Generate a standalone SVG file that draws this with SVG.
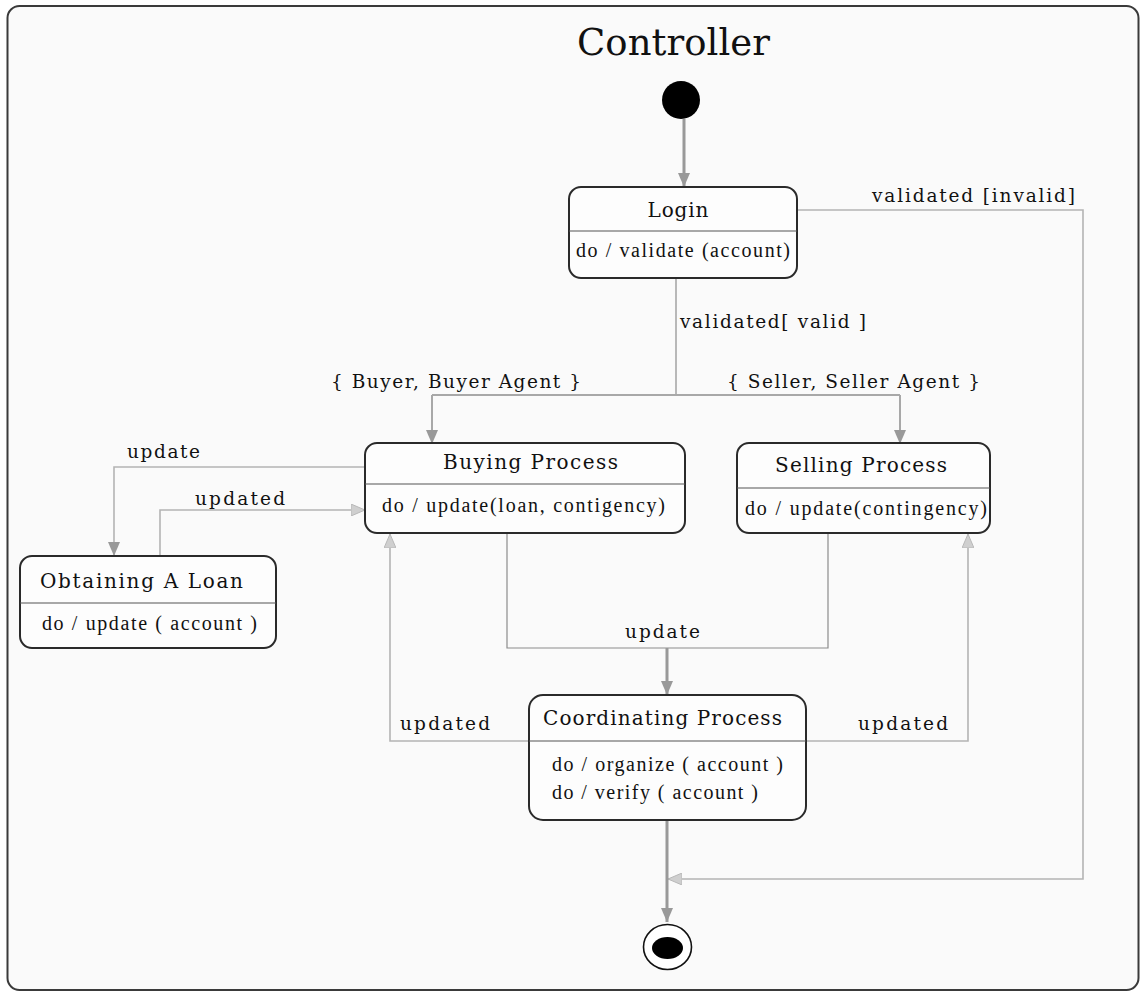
<svg xmlns="http://www.w3.org/2000/svg" width="1140" height="995" viewBox="0 0 1140 995">
<style>
.box{fill:#fdfdfd;stroke:#2a2a2a;stroke-width:2}
.div{stroke:#555;stroke-width:1.2}
.ttl{font-family:"DejaVu Serif","Liberation Serif",serif;font-size:20px;fill:#111}
.body{font-family:"Liberation Serif",serif;font-size:20px;fill:#111}
.lbl{font-family:"DejaVu Serif","Liberation Serif",serif;font-size:18.5px;fill:#111}
.thin{fill:none;stroke:#b4b4b4;stroke-width:1.6}
.mid{fill:none;stroke:#a8a8a8;stroke-width:2}
.dk{fill:none;stroke:#8c8c8c;stroke-width:1.2}
.thick{fill:none;stroke:#999;stroke-width:3}
</style>
<defs>
<marker id="aD" viewBox="0 0 14 12" refX="14" refY="6" markerWidth="14" markerHeight="12" markerUnits="userSpaceOnUse" orient="auto">
<path d="M0,0 L14,6 L0,12 Z" fill="#999"/>
</marker>
<marker id="aL" viewBox="0 0 14 12" refX="14" refY="6" markerWidth="14" markerHeight="12" markerUnits="userSpaceOnUse" orient="auto">
<path d="M0,0 L14,6 L0,12 Z" fill="#cfcfcf" stroke="#b8b8b8" stroke-width="1"/>
</marker>
</defs>
<rect x="0" y="0" width="1140" height="995" fill="#ffffff"/>
<rect x="7.5" y="6" width="1131" height="984" rx="12" fill="#fafafa" stroke="#3a3a3a" stroke-width="2"/>
<text x="577" y="55" font-family="'DejaVu Serif','Liberation Serif',serif" font-size="37" textLength="193" fill="#111">Controller</text>

<g id="connectors">
<line class="thick" x1="684" y1="119" x2="684" y2="187" marker-end="url(#aD)"/>
<polyline class="thin" points="797,210 1083,210 1083,879 668,879" marker-end="url(#aL)"/>
<text class="lbl" x="872" y="202" textLength="203">validated [invalid]</text>
<line class="dk" x1="676" y1="278" x2="676" y2="395"/>
<text class="lbl" x="680" y="328" textLength="186">validated[ valid ]</text>
<line class="mid" x1="432" y1="395" x2="900" y2="395"/>
<line class="mid" x1="432" y1="395" x2="432" y2="444" marker-end="url(#aD)"/>
<line class="mid" x1="900" y1="395" x2="900" y2="444" marker-end="url(#aD)"/>
<text class="lbl" x="331" y="388" textLength="250">{ Buyer, Buyer Agent }</text>
<text class="lbl" x="727" y="388" textLength="253">{ Seller, Seller Agent }</text>
<polyline class="thin" points="366,467 114,467 114,556" marker-end="url(#aD)"/>
<text class="lbl" x="127" y="458" textLength="73">update</text>
<polyline class="thin" points="160,556 160,510 365,510" marker-end="url(#aL)"/>
<text class="lbl" x="195" y="505" textLength="90">updated</text>
<polyline class="dk" points="507,533 507,648 828,648 828,533"/>
<line class="thick" x1="667" y1="648" x2="667" y2="695" marker-end="url(#aD)"/>
<text class="lbl" x="625" y="638" textLength="75">update</text>
<polyline class="thin" points="530,741 390,741 390,534" marker-end="url(#aL)"/>
<polyline class="thin" points="806,741 968,741 968,534" marker-end="url(#aL)"/>
<text class="lbl" x="400" y="730" textLength="90">updated</text>
<text class="lbl" x="858" y="730" textLength="90">updated</text>
<line class="thick" x1="667" y1="820" x2="667" y2="922" marker-end="url(#aD)"/>
</g>

<g id="initial">
<circle cx="681" cy="100" r="19" fill="#000"/>
</g>

<g id="login">
<rect class="box" x="569" y="187" width="228" height="91" rx="12"/>
<line class="div" x1="569" y1="231" x2="797" y2="231"/>
<text class="ttl" x="678" y="217" text-anchor="middle" textLength="61">Login</text>
<text class="body" x="576" y="257" textLength="214">do / validate (account)</text>
</g>

<g id="buying">
<rect class="box" x="365" y="443" width="320" height="90" rx="12"/>
<line class="div" x1="365" y1="484" x2="685" y2="484"/>
<text class="ttl" x="443" y="469" textLength="175">Buying Process</text>
<text class="body" x="382" y="512" textLength="283">do / update(loan, contigency)</text>
</g>

<g id="selling">
<rect class="box" x="737" y="443" width="253" height="90" rx="12"/>
<line class="div" x1="737" y1="488" x2="990" y2="488"/>
<text class="ttl" x="775" y="472" textLength="172">Selling Process</text>
<text class="body" x="745" y="515" textLength="242">do / update(contingency)</text>
</g>

<g id="loan">
<rect class="box" x="20" y="556" width="256" height="92" rx="12"/>
<line class="div" x1="20" y1="603" x2="276" y2="603"/>
<text class="ttl" x="40" y="588" textLength="203">Obtaining A Loan</text>
<text class="body" x="42" y="630" textLength="215">do / update ( account )</text>
</g>

<g id="coordinating">
<rect class="box" x="529" y="695" width="277" height="125" rx="14"/>
<line class="div" x1="529" y1="741" x2="806" y2="741"/>
<text class="ttl" x="543" y="725" textLength="239">Coordinating Process</text>
<text class="body" x="552" y="771" textLength="231">do / organize ( account )</text>
<text class="body" x="552" y="799" textLength="206">do / verify ( account )</text>
</g>

<g id="final">
<ellipse cx="667.5" cy="947" rx="24" ry="22.5" fill="#fff" stroke="#111" stroke-width="1.6"/>
<ellipse cx="667.5" cy="948" rx="15.5" ry="11" fill="#000"/>
</g>
</svg>
